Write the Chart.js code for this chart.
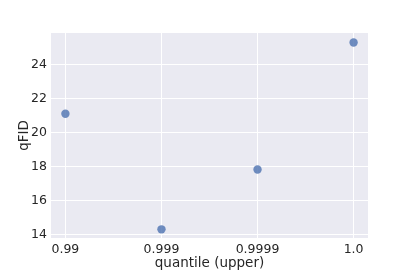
<!DOCTYPE html>
<html>
<head>
<meta charset="utf-8">
<script src="https://cdn.jsdelivr.net/npm/chart.js@4/dist/chart.umd.min.js"></script>
<style>
html,body{margin:0;padding:0;background:#fff;}
#wrap{width:409px;height:273px;}
</style>
</head>
<body>
<div id="wrap"><canvas id="c" width="409" height="273"></canvas></div>
<script>
const categories = ["0.99", "0.999", "0.9999", "1.0"];
const qfid = [21.09, 14.29, 17.81, 25.28];
const yTicks = [14, 16, 18, 20, 22, 24];
const xLabel = "quantile (upper)";
const yLabel = "qFID";

const bgPlugin = {
  id: 'bg',
  beforeDraw(chart) {
    const {ctx, chartArea: a} = chart;
    ctx.save();
    ctx.fillStyle = '#EAEAF2';
    ctx.fillRect(a.left, a.top, a.right - a.left, a.bottom - a.top);
    ctx.restore();
  }
};

const font = {family: 'DejaVu Sans', size: 12.5};
new Chart(document.getElementById('c'), {
  type: 'scatter',
  data: {
    datasets: [{
      data: qfid.map((v, i) => ({x: i, y: v})),
      backgroundColor: 'rgba(76,114,176,0.8)',
      borderWidth: 0,
      pointRadius: 4.2,
      pointHoverRadius: 4.2
    }]
  },
  options: {
    responsive: false,
    animation: false,
    devicePixelRatio: 1,
    layout: {padding: {top: 33, right: 41, left: 0, bottom: 0}},
    plugins: {legend: {display: false}, tooltip: {enabled: false}},
    scales: {
      x: {
        type: 'linear',
        min: -0.15, max: 3.15,
        afterBuildTicks: s => { s.ticks = categories.map((c, i) => ({value: i})); },
        afterFit: s => { s.height = 35; },
        ticks: {
          callback: v => categories[v],
          color: '#262626', font: font, padding: 4, maxRotation: 0, autoSkip: false
        },
        grid: {color: '#ffffff', lineWidth: 1, drawTicks: false},
        border: {display: false},
        title: {display: true, text: xLabel, color: '#262626',
          font: {family: 'DejaVu Sans', size: 13.5}, padding: {top: 0, bottom: 1}}
      },
      y: {
        min: 13.78, max: 25.84,
        afterBuildTicks: s => { s.ticks = yTicks.map(v => ({value: v})); },
        afterFit: s => { s.width = 51; },
        ticks: {color: '#262626', font: font, padding: 4},
        grid: {color: '#ffffff', lineWidth: 1, drawTicks: false},
        border: {display: false},
        title: {display: true, text: yLabel, color: '#262626',
          font: {family: 'DejaVu Sans', size: 13.5}, padding: {top: 16, bottom: 0}}
      }
    }
  },
  plugins: [bgPlugin]
});
</script>
</body>
</html>
